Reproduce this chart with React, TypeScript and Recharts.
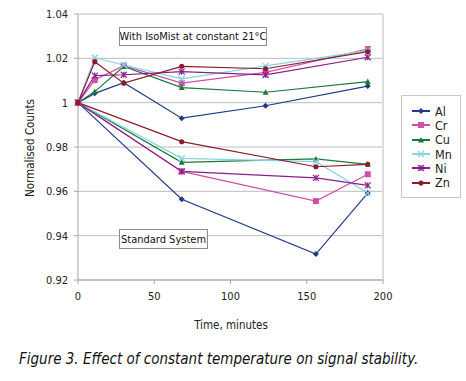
import React from 'react';
import {
  LineChart,
  Line,
  XAxis,
  YAxis,
  CartesianGrid,
  ReferenceLine,
} from 'recharts';

const FONT = "'Liberation Sans Narrow', 'DejaVu Sans Condensed', 'Roboto', sans-serif";

const elements = ['Al', 'Cr', 'Cu', 'Mn', 'Ni', 'Zn'];
const isoTime = [0, 11, 30, 68, 123, 190];
const stdTime = [0, 68, 156, 190];
const xTicks = [0, 50, 100, 150, 200];
const yTicks = [0.92, 0.94, 0.96, 0.98, 1, 1.02, 1.04];

// IsoMist at constant 21°C
const isoAl = [1, 1.0042, 1.009, 0.993, 0.9986, 1.0075];
const isoCr = [1, 1.0102, 1.0167, 1.0088, 1.0137, 1.0242];
const isoCu = [1, 1.005, 1.0163, 1.0068, 1.0047, 1.0095];
const isoMn = [1, 1.0203, 1.017, 1.0107, 1.0166, 1.0235];
const isoNi = [1, 1.0122, 1.0126, 1.014, 1.0125, 1.0205];
const isoZn = [1, 1.0185, 1.0088, 1.0164, 1.0153, 1.023];

// Standard system
const stdAl = [1, 0.9564, 0.9317, 0.9592];
const stdCr = [1, 0.969, 0.9556, 0.9677];
const stdCu = [1, 0.9731, 0.9746, 0.9722];
const stdMn = [1, 0.9749, 0.9734, 0.9592];
const stdNi = [1, 0.969, 0.9661, 0.9627];
const stdZn = [1, 0.9824, 0.9711, 0.9722];

const isoValues = [isoAl, isoCr, isoCu, isoMn, isoNi, isoZn];
const stdValues = [stdAl, stdCr, stdCu, stdMn, stdNi, stdZn];

const COLORS: Record<string, string> = {
  Al: '#1f3a8a',
  Cr: '#d04fa6',
  Cu: '#1a7a3c',
  Mn: '#86d4e4',
  Ni: '#8a1d8c',
  Zn: '#8c1c2a',
};

const toRows = (times: number[], vals: number[]) => times.map((t, i) => ({ t, v: vals[i] }));

const Marker = ({ name, cx, cy, size = 1 }: { name: string; cx: number; cy: number; size?: number }) => {
  const c = COLORS[name];
  const s = 3 * size;
  switch (name) {
    case 'Al':
      return <polygon points={`${cx},${cy - s} ${cx + s},${cy} ${cx},${cy + s} ${cx - s},${cy}`} fill={c} />;
    case 'Cr':
      return <rect x={cx - s} y={cy - s} width={2 * s} height={2 * s} fill={c} />;
    case 'Cu':
      return <polygon points={`${cx},${cy - s} ${cx + s},${cy + s * 0.8} ${cx - s},${cy + s * 0.8}`} fill={c} />;
    case 'Mn':
      return (
        <g stroke={c} strokeWidth={1.3}>
          <line x1={cx - s} y1={cy - s} x2={cx + s} y2={cy + s} />
          <line x1={cx - s} y1={cy + s} x2={cx + s} y2={cy - s} />
        </g>
      );
    case 'Ni':
      return (
        <g stroke={c} strokeWidth={1.2}>
          <line x1={cx - s} y1={cy - s} x2={cx + s} y2={cy + s} />
          <line x1={cx - s} y1={cy + s} x2={cx + s} y2={cy - s} />
          <line x1={cx} y1={cy - s} x2={cx} y2={cy + s} />
        </g>
      );
    default:
      return <circle cx={cx} cy={cy} r={s * 0.85} fill={c} />;
  }
};

const makeDot = (name: string) => (props: any) => (
  <Marker key={`${name}-${props.index}-${props.cx}`} name={name} cx={props.cx} cy={props.cy} />
);

const LegendBox = () => (
  <div
    style={{
      position: 'absolute',
      left: 401,
      top: 95,
      border: '1px solid #c8c8c8',
      background: '#fff',
      width: 60,
      height: 103,
      boxSizing: 'border-box',
      paddingTop: 8,
      fontFamily: FONT,
      fontSize: 12.5,
      color: '#222',
    }}
  >
    {elements.map((el) => (
      <div key={el} style={{ display: 'flex', alignItems: 'center', height: 14.3 }}>
        <svg width={30} height={14} style={{ flex: 'none' }}>
          <line x1={10} y1={7} x2={28} y2={7} stroke={COLORS[el]} strokeWidth={2} />
          <Marker name={el} cx={19} cy={7} />
        </svg>
        <span style={{ marginLeft: 3 }}>{el}</span>
      </div>
    ))}
  </div>
);

const boxStyle: React.CSSProperties = {
  position: 'absolute',
  border: '1px solid #8c8c8c',
  background: '#fff',
  fontFamily: FONT,
  fontSize: 11,
  color: '#111',
  boxSizing: 'border-box',
  display: 'flex',
  alignItems: 'center',
  justifyContent: 'center',
  whiteSpace: 'nowrap',
};

export default function App() {
  return (
    <div style={{ position: 'absolute', left: 0, top: 0, width: 466, height: 381, background: '#fff' }}>
      <LineChart width={466} height={381} margin={{ top: 14, right: 83, left: 28, bottom: 56 }}>
        <CartesianGrid vertical={false} stroke="#bdbdbd" />
        <XAxis
          type="number"
          dataKey="t"
          domain={[0, 200]}
          ticks={xTicks}
          height={45}
          stroke="#a8a8a8"
          tickSize={4}
          tickMargin={8}
          tick={{ fill: '#222', fontSize: 11, fontFamily: FONT }}
          allowDuplicatedCategory={false}
        />
        <YAxis
          type="number"
          domain={[0.92, 1.04]}
          ticks={yTicks}
          width={50}
          stroke="#a8a8a8"
          tickSize={4}
          tickMargin={6}
          tick={{ fill: '#222', fontSize: 11, fontFamily: FONT }}
          tickFormatter={(v: number) => String(+v.toFixed(2))}
        />
        <ReferenceLine x={200} stroke="#dcdcdc" strokeWidth={2} />
        {elements.map((el, i) => (
          <Line
            key={`iso-${el}`}
            data={toRows(isoTime, isoValues[i])}
            dataKey="v"
            name={el}
            stroke={COLORS[el]}
            strokeWidth={1.2}
            dot={makeDot(el)}
            activeDot={false}
            isAnimationActive={false}
          />
        ))}
        {elements.map((el, i) => (
          <Line
            key={`std-${el}`}
            data={toRows(stdTime, stdValues[i])}
            dataKey="v"
            name={`${el} std`}
            stroke={COLORS[el]}
            strokeWidth={1.2}
            dot={makeDot(el)}
            activeDot={false}
            isAnimationActive={false}
          />
        ))}
      </LineChart>

      <LegendBox />

      <div style={{ ...boxStyle, left: 119, top: 27, width: 148, height: 19 }}>With IsoMist at constant 21°C</div>
      <div style={{ ...boxStyle, left: 119, top: 229, width: 89, height: 20 }}>Standard System</div>

      <div
        style={{
          position: 'absolute',
          left: 30,
          top: 148,
          transform: 'translate(-50%, -50%) rotate(-90deg)',
          fontFamily: FONT,
          fontSize: 11.5,
          color: '#222',
          whiteSpace: 'nowrap',
        }}
      >
        Normalised Counts
      </div>
      <div
        style={{
          position: 'absolute',
          left: 231,
          top: 325,
          transform: 'translate(-50%, -50%)',
          fontFamily: FONT,
          fontSize: 11.5,
          color: '#222',
          whiteSpace: 'nowrap',
        }}
      >
        Time, minutes
      </div>
      <div
        style={{
          position: 'absolute',
          left: 19,
          top: 350,
          fontFamily: FONT,
          fontStyle: 'italic',
          fontSize: 15,
          color: '#111',
          whiteSpace: 'nowrap',
        }}
      >
        Figure 3. Effect of constant temperature on signal stability.
      </div>
    </div>
  );
}
